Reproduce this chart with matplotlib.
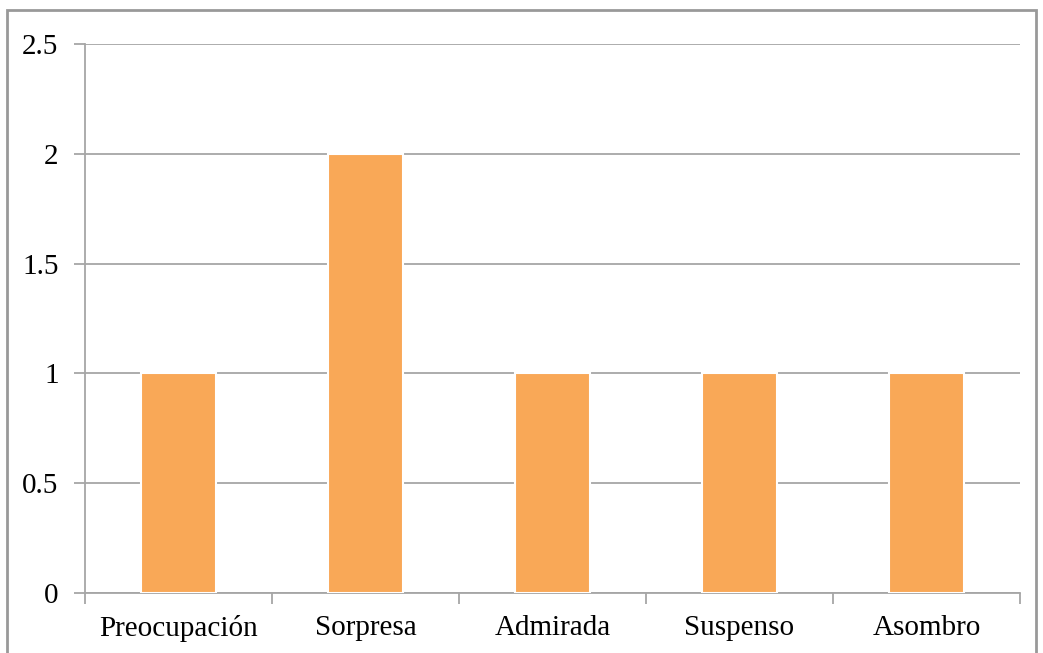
import matplotlib.pyplot as plt
from matplotlib.patches import Rectangle

# datos
categorias = ['Preocupación', 'Sorpresa', 'Admirada', 'Suspenso', 'Asombro']
valores = [1, 2, 1, 1, 1]
yticks = [0, 0.5, 1, 1.5, 2, 2.5]
ytick_labels = ['0', '0.5', '1', '1.5', '2', '2.5']

plt.rcParams['font.family'] = ['Liberation Serif', 'DejaVu Serif']

fig = plt.figure(figsize=(10.43, 6.53), dpi=100)
ax = fig.add_axes([0.0815, 0.0919, 0.8965, 0.8407])

gris = '#A6A6A6'
x = range(len(categorias))
ax.bar(x, valores, width=0.4, color='#F9A857', edgecolor='white', linewidth=1.5, zorder=3)

ax.set_xlim(-0.5, len(categorias) - 0.5)
ax.set_ylim(0, 2.5)
ax.set_yticks(yticks)
ax.set_yticklabels(ytick_labels, fontsize=21)
ax.yaxis.grid(True, color=gris, linewidth=1.3, zorder=0)

# ticks del eje x en los limites de categoria
ax.set_xticks([i - 0.5 for i in range(len(categorias) + 1)], minor=False)
ax.set_xticklabels([])
ax.set_xticks(list(x), minor=True)
ax.set_xticklabels(categorias, minor=True, fontsize=21)
ax.tick_params(axis='x', which='minor', length=0, pad=16)
ax.tick_params(axis='x', which='major', length=8, color=gris, width=1.3)
ax.tick_params(axis='y', length=8, color=gris, width=1.3, pad=11)

for s in ['top', 'right']:
    ax.spines[s].set_visible(False)
for s in ['left', 'bottom']:
    ax.spines[s].set_color(gris)
    ax.spines[s].set_linewidth(1.3)

# borde exterior del grafico
fig.patches.append(Rectangle((0.0067, -0.05), 0.9866, 1.035, transform=fig.transFigure,
                             fill=False, edgecolor='#999999', linewidth=2))

fig.savefig('out.png', dpi=100)
